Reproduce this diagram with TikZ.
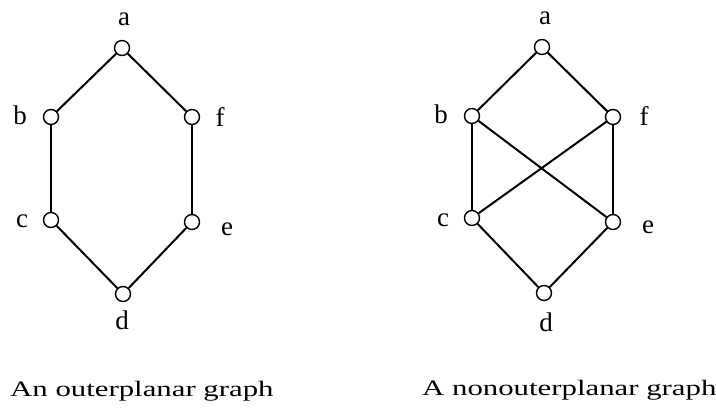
\documentclass[tikz,border=0pt]{standalone}
\usepackage{fontspec}
\setmainfont{Liberation Serif}
\newfontfamily\capfont[FakeStretch=1.4]{Liberation Serif}
\usetikzlibrary{positioning}

\begin{document}
\begin{tikzpicture}[
    x=1pt, y=-1pt,
    vert/.style={circle, draw, line width=1.4pt, fill=white, minimum size=15pt, inner sep=0pt},
    edge/.style={line width=2pt},
    vlabel/.style={font=\fontsize{27}{30}\selectfont, inner sep=0pt, anchor=base},
    caption/.style={font=\capfont\fontsize{22}{26}\selectfont, inner sep=0pt, anchor=base west},
]
\useasboundingbox (0,0) rectangle (716,414);

% ============ LEFT: OUTERPLANAR GRAPH ============
\node[vert] (a1) at (122,48) {};
\node[vert] (b1) at (51,117) {};
\node[vert] (f1) at (192,117) {};
\node[vert] (c1) at (51,220) {};
\node[vert] (e1) at (192,222) {};
\node[vert] (d1) at (123,294) {};

\node[vlabel] (la1) at (124,26) {a};
\node[vlabel] (lb1) at (20,125) {b};
\node[vlabel] (lf1) at (220,127) {f};
\node[vlabel] (lc1) at (22,228) {c};
\node[vlabel] (le1) at (227,236) {e};
\node[vlabel] (ld1) at (122,330) {d};

\draw[edge] (a1) -- (b1);
\draw[edge] (a1) -- (f1);
\draw[edge] (b1) -- (c1);
\draw[edge] (f1) -- (e1);
\draw[edge] (c1) -- (d1);
\draw[edge] (e1) -- (d1);

\node[caption] (cap1) at (10,397) {An outerplanar graph};

% ============ RIGHT: NONOUTERPLANAR GRAPH ============
\node[vert] (a2) at (542,47) {};
\node[vert] (b2) at (472,116) {};
\node[vert] (f2) at (613,117) {};
\node[vert] (c2) at (472,218) {};
\node[vert] (e2) at (613,222) {};
\node[vert] (d2) at (544,293) {};

\node[vlabel] (la2) at (545,25) {a};
\node[vlabel] (lb2) at (441,124) {b};
\node[vlabel] (lf2) at (644,126) {f};
\node[vlabel] (lc2) at (443,227) {c};
\node[vlabel] (le2) at (648,234) {e};
\node[vlabel] (ld2) at (546,332) {d};

\draw[edge] (a2) -- (b2);
\draw[edge] (a2) -- (f2);
\draw[edge] (b2) -- (c2);
\draw[edge] (f2) -- (e2);
\draw[edge] (c2) -- (d2);
\draw[edge] (e2) -- (d2);
% crossing pair
\draw[edge] (b2) -- (e2);
\draw[edge] (f2) -- (c2);

\node[caption] (cap2) at (422,396) {A nonouterplanar graph};

\end{tikzpicture}
\end{document}
